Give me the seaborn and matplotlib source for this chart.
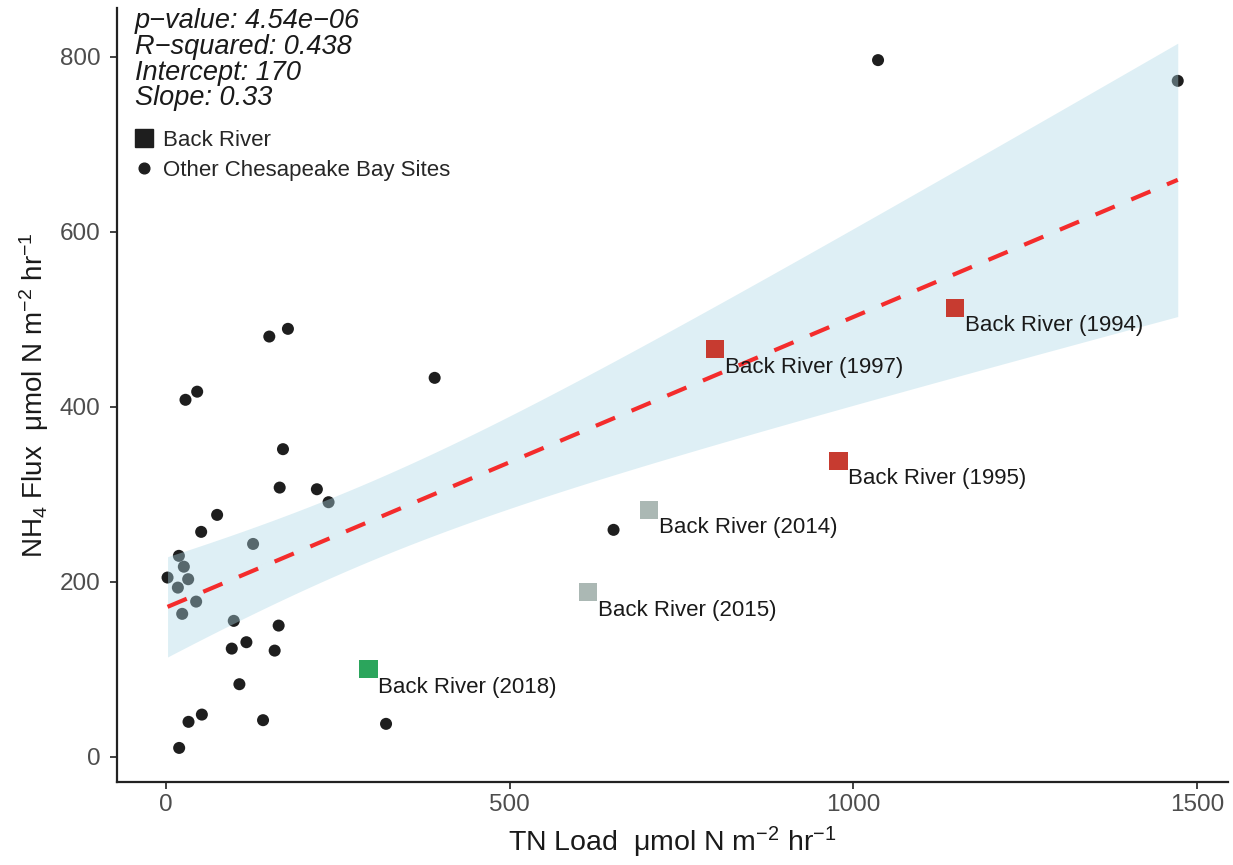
import numpy as np
import pandas as pd
import matplotlib
matplotlib.use("Agg")
import matplotlib.pyplot as plt
from matplotlib.lines import Line2D
import seaborn as sns

# ---------------- data ----------------
other_tn = [150.5, 177.6, 28.6, 45.6, 170.4, 165.6, 219.7, 236.7, 74.6, 51.4,
            126.9, 19.0, 26.2, 2.5, 32.5, 17.5, 44.1, 23.8, 98.8, 164.1,
            117.2, 95.9, 158.3, 107.0, 52.4, 33.0, 141.4, 320.3, 19.4, 391.0,
            651.2, 1035.9, 1471.8]
other_nh4 = [480.0, 488.8, 407.7, 417.0, 351.3, 307.4, 305.5, 290.7, 276.2, 256.8,
             243.0, 229.4, 217.0, 204.6, 202.7, 193.1, 177.1, 163.1, 155.1, 149.7,
             130.7, 123.4, 121.1, 82.7, 48.0, 39.7, 41.6, 37.4, 9.9, 432.8,
             259.1, 795.9, 772.2]

br_years = ["1994", "1995", "1997", "2014", "2015", "2018"]
br_tn = [1148.2, 978.4, 799.3, 702.6, 614.5, 294.8]
br_nh4 = [513.1, 338.0, 465.6, 282.0, 187.9, 100.0]
br_colors = ["#C73B30", "#C73B30", "#C73B30", "#ABB8B4", "#ABB8B4", "#2BA55C"]

stats_lines = ["p\u2212value: 4.54e\u221206", "R\u2212squared: 0.438",
               "Intercept: 170", "Slope: 0.33"]
legend_labels = ["Back River", "Other Chesapeake Bay Sites"]

# ---------------- style ----------------
sns.set_style("white")
plt.rcParams["font.family"] = ["Liberation Sans", "DejaVu Sans"]
plt.rcParams["mathtext.fontset"] = "custom"
plt.rcParams["mathtext.rm"] = "Liberation Sans"
plt.rcParams["mathtext.it"] = "Liberation Sans:italic"
plt.rcParams["mathtext.default"] = "regular"

fig = plt.figure(figsize=(12.33, 8.65), dpi=100)
ax = fig.add_axes([0.0949, 0.096, 0.9011, 0.8948])

# other sites (drawn under the confidence band)
sns.scatterplot(x=other_tn, y=other_nh4, color="#1E1E1E", s=75,
                edgecolor="none", ax=ax, legend=False, zorder=1)

# linear fit on all sites (ggplot-style analytical 95% band)
all_x = np.array(other_tn + br_tn)
all_y = np.array(other_nh4 + br_nh4)
n = len(all_x)
slope, intercept = np.polyfit(all_x, all_y, 1)
grid = np.linspace(all_x.min(), all_x.max(), 80)
yhat = intercept + slope * grid
resid = all_y - (intercept + slope * all_x)
s_err = np.sqrt(np.sum(resid ** 2) / (n - 2))
sxx = np.sum((all_x - all_x.mean()) ** 2)
se = s_err * np.sqrt(1.0 / n + (grid - all_x.mean()) ** 2 / sxx)
t975 = 2.026  # t quantile, df = n - 2
ax.fill_between(grid, yhat - t975 * se, yhat + t975 * se,
                color="#ADD8E6", alpha=0.4, lw=0, zorder=1)

sns.regplot(x=all_x, y=all_y, scatter=False, ci=None, truncate=True, ax=ax,
            line_kws=dict(color="#F42C2C", lw=3.0, ls=(0, (5, 4.3)),
                          dash_capstyle="butt", zorder=2))

# Back River squares
df_br = pd.DataFrame({"tn": br_tn, "nh4": br_nh4, "year": br_years})
sns.scatterplot(data=df_br, x="tn", y="nh4", hue="year",
                palette=dict(zip(br_years, br_colors)), marker="s", s=169,
                edgecolor="none", ax=ax, legend=False, zorder=3)
for yr, x, y in zip(br_years, br_tn, br_nh4):
    ax.annotate(f"Back River ({yr})", (x, y), xytext=(7, -5.5),
                textcoords="offset points", ha="left", va="top",
                fontsize=16, color="#1A1A1A", zorder=4)

# stats text
ax.text(0.0162, 1.0, "\n".join(stats_lines), transform=ax.transAxes,
        ha="left", va="top", fontsize=19.5, style="italic",
        linespacing=0.99, color="#1A1A1A")

# legend
handles = [Line2D([], [], marker="s", ls="", color="#1E1E1E", markersize=13),
           Line2D([], [], marker="o", ls="", color="#1E1E1E", markersize=7.7)]
ax.legend(handles, legend_labels, loc="upper left",
          bbox_to_anchor=(0.0144, 0.842), frameon=False, fontsize=16,
          handlelength=1.0, handletextpad=0.35, borderpad=0,
          labelspacing=0.38, borderaxespad=0)

# axes
ax.set_xlim(-71, 1545)
ax.set_ylim(-29, 855.5)
ax.set_xticks([0, 500, 1000, 1500])
ax.set_yticks([0, 200, 400, 600, 800])
ax.set_xlabel(r"TN Load  μmol N m$^{-2}$ hr$^{-1}$", fontsize=20.5,
              color="#1A1A1A", labelpad=6)
ax.set_ylabel(r"NH$_4$ Flux  μmol N m$^{-2}$ hr$^{-1}$", fontsize=20,
              color="#1A1A1A", labelpad=6)
ax.tick_params(axis="both", which="major", labelsize=17.5, labelcolor="#4D4D4D",
               color="#333333", length=5, width=1.3,
               bottom=True, left=True)
ax.tick_params(axis="x", pad=4)
ax.tick_params(axis="y", pad=7)
for side in ["top", "right"]:
    ax.spines[side].set_visible(False)
for side in ["left", "bottom"]:
    ax.spines[side].set_color("#222222")
    ax.spines[side].set_linewidth(1.6)
ax.grid(False)

fig.savefig("out.png", dpi=100)
